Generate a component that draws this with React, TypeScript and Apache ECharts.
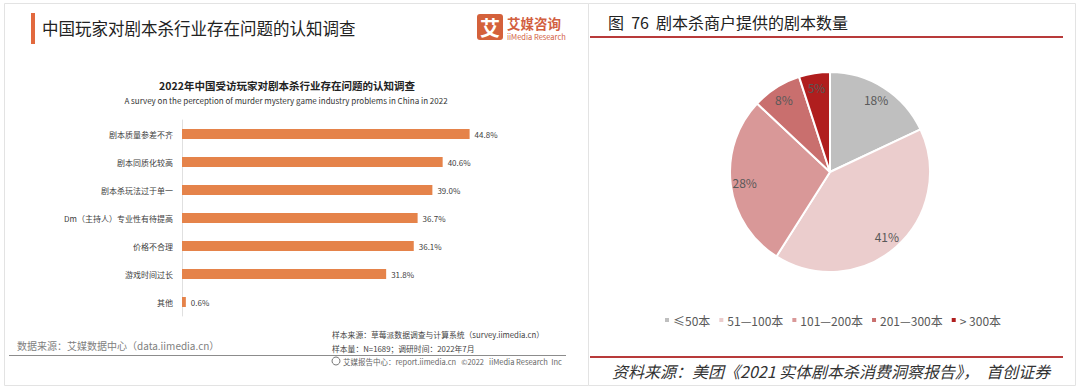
import React, { useEffect, useRef } from "react";
import * as echarts from "echarts";

const barCategories = [
  "剧本质量参差不齐",
  "剧本同质化较高",
  "剧本杀玩法过于单一",
  "Dm（主持人）专业性有待提高",
  "价格不合理",
  "游戏时间过长",
  "其他",
];
const barValues = [44.8, 40.6, 39.0, 36.7, 36.1, 31.8, 0.6];

const pieNames = ["≤50本", "51—100本", "101—200本", "201—300本", "> 300本"];
const pieValues = [18, 41, 28, 8, 5];
const pieColors = ["#BFBFBF", "#EBCDCD", "#D99898", "#C96F6E", "#B01E1E"];

const FONT = "'Noto Sans CJK SC', 'Noto Sans', sans-serif";

export default function App() {
  const ref = useRef<HTMLDivElement>(null);
  useEffect(() => {
    if (!ref.current) return;
    const chart = echarts.init(ref.current, undefined, { renderer: "svg" });
    const pieData = pieNames.map((n, i) => ({ name: n, value: pieValues[i], itemStyle: { color: pieColors[i] } }));
    chart.setOption({
      animation: false,
      backgroundColor: "#ffffff",
      textStyle: { fontFamily: FONT },
      graphic: [
        { type: "rect", shape: { x: 4.5, y: 3.5, width: 584, height: 382 }, style: { fill: "#fff", stroke: "#E3E3E3", lineWidth: 1 }, z: -10 },
        { type: "rect", shape: { x: 588.5, y: 3.5, width: 487, height: 382 }, style: { fill: "#fff", stroke: "#E3E3E3", lineWidth: 1 }, z: -10 },
        // left header
        { type: "rect", shape: { x: 31, y: 13, width: 4, height: 31 }, style: { fill: "#E2693E" } },
        { type: "text", x: 42, y: 28, style: { text: "中国玩家对剧本杀行业存在问题的认知调查", font: `16.5px ${FONT}`, fill: "#222", textVerticalAlign: "middle" } },
        { type: "rect", shape: { x: 477, y: 14, width: 26, height: 26, r: 3 }, style: { fill: "#D4613B" } },
        { type: "text", x: 490, y: 27.5, style: { text: "艾", font: `bold 20px ${FONT}`, fill: "#fff", textAlign: "center", textVerticalAlign: "middle" } },
        { type: "text", x: 507, y: 22.5, style: { text: "艾媒咨询", font: `bold 13.5px ${FONT}`, fill: "#D2603F", textVerticalAlign: "middle" } },
        { type: "text", x: 507, y: 36.5, style: { text: "iiMedia Research", font: `7.5px ${FONT}`, fill: "#D2603F", textVerticalAlign: "middle" } },
        // chart titles
        { type: "text", x: 287, y: 85, style: { text: "2022年中国受访玩家对剧本杀行业存在问题的认知调查", font: `bold 10.5px ${FONT}`, fill: "#222", textAlign: "center", textVerticalAlign: "middle" } },
        { type: "text", x: 286, y: 100, style: { text: "A survey on the perception of murder mystery game industry problems in China in 2022", font: `8px ${FONT}`, fill: "#333", textAlign: "center", textVerticalAlign: "middle" } },
        // left footnotes
        { type: "text", x: 17, y: 345, style: { text: "数据来源：艾媒数据中心（data.iimedia.cn）", font: `10px ${FONT}`, fill: "#808080", textVerticalAlign: "middle" } },
        { type: "text", x: 332, y: 334, style: { text: "样本来源：草莓派数据调查与计算系统（survey.iimedia.cn）", font: `7.8px ${FONT}`, fill: "#444", textVerticalAlign: "middle" } },
        { type: "text", x: 332, y: 348, style: { text: "样本量：N=1689；调研时间：2022年7月", font: `7.8px ${FONT}`, fill: "#444", textVerticalAlign: "middle" } },
        { type: "line", shape: { x1: 9, y1: 355.5, x2: 566, y2: 355.5 }, style: { stroke: "#8C8C8C", lineWidth: 1 } },
        { type: "circle", shape: { cx: 336, cy: 361, r: 4 }, style: { fill: "none", stroke: "#777", lineWidth: 1 } },
        { type: "text", x: 343, y: 361.5, style: { text: "艾媒报告中心：report.iimedia.cn   ©2022   iiMedia Research  Inc", font: `7.5px ${FONT}`, fill: "#666", textVerticalAlign: "middle" } },
        // right header
        { type: "text", x: 608, y: 22, style: { text: "图  76  剧本杀商户提供的剧本数量", font: `16px ${FONT}`, fill: "#222", textVerticalAlign: "middle" } },
        { type: "line", shape: { x1: 590, y1: 37, x2: 1063, y2: 37 }, style: { stroke: "#B83A3A", lineWidth: 2 } },
        { type: "line", shape: { x1: 590, y1: 357, x2: 1063, y2: 357 }, style: { stroke: "#B83A3A", lineWidth: 2 } },
        { type: "text", x: 612, y: 371, style: { text: "资料来源：美团《2021 实体剧本杀消费洞察报告》，  首创证券", font: `italic 16px ${FONT}`, fill: "#333", textVerticalAlign: "middle" } },
      ],
      grid: { left: 182, top: 120, width: 321, height: 196, containLabel: false },
      xAxis: { type: "value", min: 0, max: 50, show: false },
      yAxis: {
        type: "category",
        inverse: true,
        data: barCategories,
        axisLine: { show: true, lineStyle: { color: "#E0E0E0", width: 1 } },
        axisTick: { show: false },
        axisLabel: { fontSize: 8, color: "#404040", margin: 9, fontFamily: FONT },
      },
      legend: {
        data: pieNames,
        left: 658,
        top: 309,
        itemWidth: 6,
        itemHeight: 6,
        itemGap: 7,
        icon: "rect",
        textStyle: { fontSize: 12, color: "#595959", fontFamily: FONT, padding: [0, 0, 0, -2] },
      },
      series: [
        {
          type: "bar",
          data: barValues,
          barWidth: 10,
          itemStyle: { color: "#E5834A" },
          label: {
            show: true,
            position: "right",
            distance: 5,
            fontSize: 8,
            color: "#404040",
            fontFamily: FONT,
            formatter: (p: any) => p.value.toFixed(1) + "%",
          },
        },
        {
          type: "pie",
          center: [830, 172],
          radius: [0, 100],
          startAngle: 90,
          clockwise: true,
          data: pieData,
          itemStyle: { borderColor: "#fff", borderWidth: 2 },
          label: { show: false },
          labelLine: { show: false },
          emphasis: { disabled: true },
        },
        {
          type: "pie",
          center: [830, 172],
          radius: [66, 100],
          startAngle: 90,
          clockwise: true,
          silent: true,
          data: pieNames.map((n, i) => ({ name: n, value: pieValues[i], itemStyle: { color: "rgba(0,0,0,0)" } })),
          label: {
            show: true,
            position: "inside",
            formatter: (p: any) => p.value + "%",
            fontSize: 12,
            color: "#595959",
            fontFamily: FONT,
          },
          labelLine: { show: false },
          emphasis: { disabled: true },
        },
      ],
    });
    return () => chart.dispose();
  }, []);
  return <div ref={ref} style={{ position: "fixed", left: 0, top: 0, width: 1080, height: 392 }} />;
}
